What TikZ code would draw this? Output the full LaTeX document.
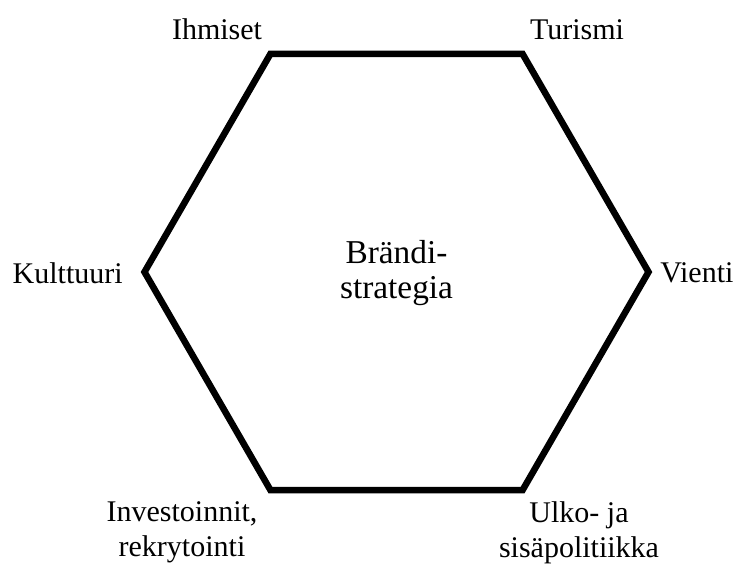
\documentclass[tikz,border=0pt]{standalone}
\usepackage{fontspec}
\setmainfont{Liberation Serif}

\tikzset{
  hexlabel/.style={inner sep=0pt, align=center, font=\fontsize{22.5}{26.25}\selectfont},
  hubtext/.style={hexlabel, font=\fontsize{25}{26.25}\selectfont},
  hexedge/.style={line width=4.9pt, line join=miter}
}

\begin{document}
\begin{tikzpicture}[x=0.75pt, y=-0.75pt]
\useasboundingbox (0,0) rectangle (737,564);
\coordinate (hub) at (396.5,273);
\coordinate (vL)  at (144.5,272);
\coordinate (vTL) at (270.5,53.8);
\coordinate (vTR) at (522.5,53.8);
\coordinate (vR)  at (648.5,272);
\coordinate (vBR) at (522.5,490.2);
\coordinate (vBL) at (270.5,490.2);
\draw[hexedge] (vL) -- (vTL) -- (vTR) -- (vR) -- (vBR) -- (vBL) -- cycle;

\node[hubtext] (brandi) at (hub) {Brändi-\\strategia};
\node[hexlabel, anchor=base] (ihmiset) at (217,39) {Ihmiset};
\node[hexlabel, anchor=base] (turismi) at (577,39) {Turismi};
\node[hexlabel, anchor=base east] (kulttuuri) at (123,283) {Kulttuuri};
\node[hexlabel, anchor=base west] (vienti) at (660,282) {Vienti};
\node[hexlabel, anchor=north] (investoinnit) at (182,501) {Investoinnit,\\rekrytointi};
\node[hexlabel, anchor=north] (ulko) at (579,501) {Ulko- ja\\sisäpolitiikka};
\end{tikzpicture}
\end{document}
